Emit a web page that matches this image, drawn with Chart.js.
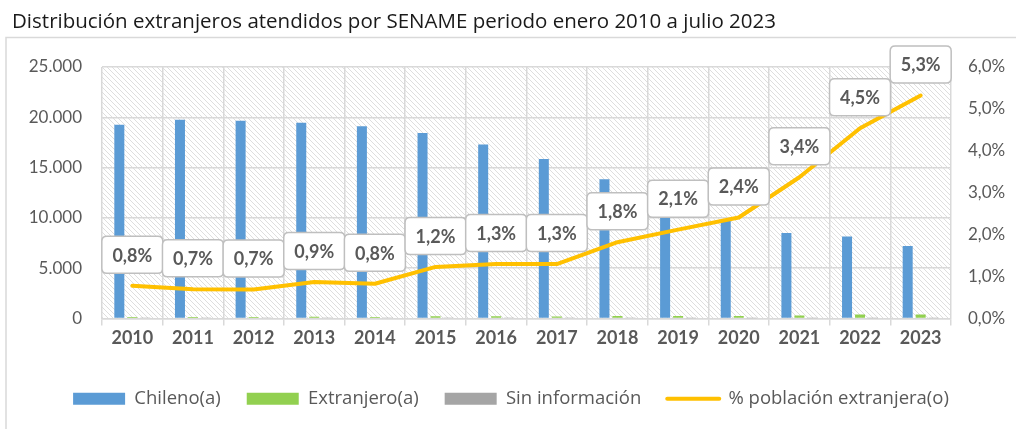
<!DOCTYPE html>
<html>
<head>
<meta charset="utf-8">
<script src="https://cdn.jsdelivr.net/npm/chart.js@4.4.0/dist/chart.umd.min.js"></script>
<style>
  html, body { margin: 0; padding: 0; background: #fff; }
  #wrap { width: 1016px; height: 429px; position: relative; }
</style>
</head>
<body>
<div id="wrap"><canvas id="canvas" width="1016" height="429"></canvas></div>
<script>
// data
var years = ['2010','2011','2012','2013','2014','2015','2016','2017','2018','2019','2020','2021','2022','2023'];
var chileno = [19250, 19750, 19650, 19450, 19100, 18450, 17300, 15850, 13850, 11700, 9750, 8500, 8150, 7200];
var extranjero = [150, 140, 140, 170, 160, 230, 230, 210, 260, 250, 240, 300, 390, 400];
var sinInfo = [60, 40, 40, 50, 40, 40, 40, 40, 40, 30, 30, 30, 30, 30];
var pctExtranjera = [0.78, 0.70, 0.69, 0.87, 0.83, 1.23, 1.30, 1.30, 1.82, 2.12, 2.41, 3.37, 4.54, 5.32];

var titleText = 'Distribución extranjeros atendidos por SENAME periodo enero 2010 a julio 2023';
var FONT = 'Lato, "Open Sans", sans-serif';
var FONT2 = '"Open Sans", Lato, sans-serif';
var GREY_TXT = '#595959';

// hatch pattern for the plot background
function makeHatch() {
  var c = document.createElement('canvas');
  c.width = 5; c.height = 5;
  var g = c.getContext('2d');
  g.fillStyle = '#ffffff';
  g.fillRect(0, 0, 5, 5);
  g.strokeStyle = '#dedede';
  g.lineWidth = 1;
  g.beginPath();
  g.moveTo(-1, -1); g.lineTo(6, 6);
  g.moveTo(-1, 4); g.lineTo(1, 6);
  g.moveTo(4, -1); g.lineTo(6, 1);
  g.stroke();
  return c;
}

var framePlugin = {
  id: 'frame',
  beforeDraw: function(chart) {
    var ctx = chart.ctx, a = chart.chartArea;
    ctx.save();
    ctx.fillStyle = '#fff';
    ctx.fillRect(0, 0, chart.width, chart.height);
    // outer border
    ctx.strokeStyle = '#d9d9d9';
    ctx.lineWidth = 1.5;
    ctx.beginPath();
    ctx.moveTo(6, chart.height + 2);
    ctx.lineTo(6, 37.5);
    ctx.lineTo(chart.width + 2, 37.5);
    ctx.stroke();
    // title
    ctx.fillStyle = '#1a1a1a';
    ctx.font = '20.5px ' + FONT2;
    ctx.textBaseline = 'alphabetic';
    ctx.textAlign = 'left';
    ctx.fillText(titleText, 12, 28);
    // hatched plot area
    ctx.fillStyle = ctx.createPattern(makeHatch(), 'repeat');
    ctx.fillRect(a.left, a.top, a.right - a.left, a.bottom - a.top);
    ctx.restore();
  }
};

var labelPlugin = {
  id: 'pctLabels',
  afterDatasetsDraw: function(chart) {
    var ctx = chart.ctx;
    var meta = chart.getDatasetMeta(3);
    ctx.save();
    meta.data.forEach(function(pt, i) {
      var w = 61, h = 37, r = 5;
      var cx = pt.x, cy = pt.y - 31;
      var x = cx - w / 2, y = cy - h / 2;
      ctx.beginPath();
      ctx.moveTo(x + r, y);
      ctx.lineTo(x + w - r, y);
      ctx.quadraticCurveTo(x + w, y, x + w, y + r);
      ctx.lineTo(x + w, y + h - r);
      ctx.quadraticCurveTo(x + w, y + h, x + w - r, y + h);
      ctx.lineTo(x + r, y + h);
      ctx.quadraticCurveTo(x, y + h, x, y + h - r);
      ctx.lineTo(x, y + r);
      ctx.quadraticCurveTo(x, y, x + r, y);
      ctx.closePath();
      ctx.fillStyle = '#fff';
      ctx.fill();
      ctx.strokeStyle = '#bfbfbf';
      ctx.lineWidth = 1.5;
      ctx.stroke();
      ctx.fillStyle = GREY_TXT;
      ctx.font = 'bold 18px ' + FONT;
      ctx.textAlign = 'center';
      ctx.textBaseline = 'middle';
      ctx.fillText(pctExtranjera[i].toFixed(1).replace('.', ',') + '%', cx, cy + 1);
    });
    ctx.restore();
  }
};

var barOpts = { categoryPercentage: 0.643, barPercentage: 0.77, borderWidth: 0, yAxisID: 'y', order: 1 };

var config = {
  type: 'bar',
  data: {
    labels: years,
    datasets: [
      Object.assign({ label: 'Chileno(a)', data: chileno, backgroundColor: '#5b9bd5' }, barOpts),
      Object.assign({ label: 'Extranjero(a)', data: extranjero, backgroundColor: '#92d050' }, barOpts),
      Object.assign({ label: 'Sin información', data: sinInfo, backgroundColor: '#a5a5a5' }, barOpts),
      {
        type: 'line',
        label: '% población extranjera(o)',
        data: pctExtranjera,
        yAxisID: 'y1',
        borderColor: '#ffc000',
        backgroundColor: '#ffc000',
        borderWidth: 4,
        borderCapStyle: 'round',
        borderJoinStyle: 'round',
        pointRadius: 0,
        tension: 0,
        order: 0
      }
    ]
  },
  options: {
    responsive: false,
    animation: false,
    layout: { padding: { left: 6, right: 0, top: 67, bottom: 11 } },
    plugins: {
      title: { display: false },
      tooltip: { enabled: false },
      legend: {
        position: 'bottom',
        labels: {
          usePointStyle: true,
          pointStyleWidth: 52,
          boxHeight: 12,
          padding: 26,
          color: GREY_TXT,
          font: { family: FONT2, size: 18.5 },
          generateLabels: function(chart) {
            var items = Chart.defaults.plugins.legend.labels.generateLabels(chart);
            items.sort(function(a, b) { return a.datasetIndex - b.datasetIndex; });
            items.forEach(function(it) {
              it.pointStyle = it.datasetIndex === 3 ? 'line' : 'rect';
              if (it.datasetIndex === 3) { it.lineWidth = 4; it.strokeStyle = '#ffc000'; it.lineCap = 'round'; }
            });
            return items;
          }
        }
      }
    },
    scales: {
      x: {
        grid: { color: '#d9d9d9', lineWidth: 1.5, tickLength: 7, offset: true },
        border: { color: '#d9d9d9', width: 1.5 },
        ticks: { color: GREY_TXT, font: { family: FONT, size: 18, weight: 'bold' }, padding: 2, maxRotation: 0 },
        afterFit: function(s) { s.height = 45; }
      },
      y: {
        position: 'left',
        min: 0, max: 25000,
        grid: { color: '#d9d9d9', lineWidth: 1.5, drawTicks: false },
        border: { display: false },
        ticks: {
          stepSize: 5000, padding: 20, color: GREY_TXT,
          font: { family: FONT, size: 17 },
          callback: function(v) { return String(v).replace(/\B(?=(\d{3})+(?!\d))/g, '.'); }
        },
        afterFit: function(s) { s.width = 96; }
      },
      y1: {
        position: 'right',
        min: 0, max: 6,
        grid: { display: false, drawTicks: false },
        border: { display: false },
        ticks: {
          stepSize: 1, padding: 17, color: GREY_TXT,
          font: { family: FONT, size: 17 },
          callback: function(v) { return v.toFixed(1).replace('.', ',') + '%'; }
        },
        afterFit: function(s) { s.width = 65; }
      }
    }
  },
  plugins: [framePlugin, labelPlugin]
};

new Chart(document.getElementById('canvas').getContext('2d'), config);
</script>
</body>
</html>
